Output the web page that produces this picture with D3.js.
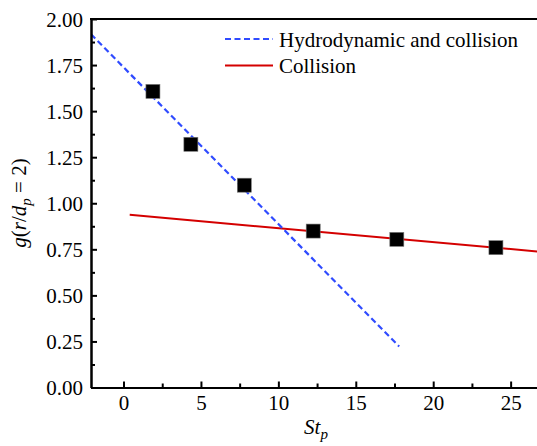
<!DOCTYPE html>
<html>
<head>
<meta charset="utf-8">
<script src="https://cdn.jsdelivr.net/npm/d3@7"></script>
<style>
  html, body { margin: 0; padding: 0; background: #fff; }
  svg { display: block; }
  svg text { font-family: "Liberation Serif", Tinos, "Times New Roman", Times, "DejaVu Serif", serif !important; }
</style>
</head>
<body>
<svg id="chart" width="537" height="446"></svg>
<script>
// Measured radial distribution at contact versus particle Stokes number
const stokes = [1.9, 4.35, 7.8, 12.25, 17.65, 24.05];
const gContact = [1.607, 1.32, 1.098, 0.849, 0.804, 0.759];

// Fitted trend lines (end points: [St_p, g])
const hydroFit = [[-2.1, 1.917], [17.8, 0.223]];
const collisionFit = [[0.4, 0.937], [27, 0.736]];

// Axis ticks
const xTicks = [0, 5, 10, 15, 20, 25];
const xMinor = [2.5, 7.5, 12.5, 17.5, 22.5];
const yTicks = [0, 0.25, 0.5, 0.75, 1.0, 1.25, 1.5, 1.75, 2.0];
const yMinor = [0.125, 0.375, 0.625, 0.875, 1.125, 1.375, 1.625, 1.875];

const legendItems = [
  { label: "Hydrodynamic and collision", color: "#2f4bff", dash: "6,3.5" },
  { label: "Collision", color: "#d40000", dash: null }
];

const svg = d3.select("#chart");
const plotLeft = 91, plotTop = 19, plotBottom = 387.5, plotRight = 541.6;

const x = d3.scaleLinear().domain([-2.1, 27]).range([plotLeft, plotRight]);
const y = d3.scaleLinear().domain([0, 2]).range([plotBottom, plotTop]);

svg.append("defs").append("clipPath").attr("id", "plotClip")
  .append("rect").attr("x", plotLeft).attr("y", plotTop)
  .attr("width", plotRight - plotLeft).attr("height", plotBottom - plotTop);

const plot = svg.append("g").attr("clip-path", "url(#plotClip)");

const line = d3.line().x(d => x(d[0])).y(d => y(d[1]));

plot.append("path").datum(collisionFit)
  .attr("d", line).attr("fill", "none")
  .attr("stroke", legendItems[1].color).attr("stroke-width", 2);

plot.append("path").datum(hydroFit)
  .attr("d", line).attr("fill", "none")
  .attr("stroke", legendItems[0].color).attr("stroke-width", 2.2)
  .attr("stroke-dasharray", legendItems[0].dash);

// Data markers
const sq = 14;
svg.append("g").selectAll("rect").data(stokes.map((s, i) => [s, gContact[i]]))
  .join("rect")
  .attr("x", d => x(d[0]) - sq / 2).attr("y", d => y(d[1]) - sq / 2)
  .attr("width", sq).attr("height", sq)
  .attr("fill", "#000").attr("stroke", "#777").attr("stroke-width", 0.6);

// Axes
const fontSize = 21;
const xAxis = svg.append("g").attr("transform", `translate(0,${plotBottom})`)
  .call(d3.axisBottom(x).tickValues(xTicks).tickSizeInner(-6).tickSizeOuter(0).tickPadding(8).tickFormat(d3.format("d")));
const xAxisMinor = svg.append("g").attr("transform", `translate(0,${plotBottom})`)
  .call(d3.axisBottom(x).tickValues(xMinor).tickSizeInner(-4).tickSizeOuter(0).tickFormat(""));
const yAxis = svg.append("g").attr("transform", `translate(${plotLeft},0)`)
  .call(d3.axisLeft(y).tickValues(yTicks).tickSizeInner(-6).tickSizeOuter(0).tickPadding(8).tickFormat(d3.format(".2f")));
const yAxisMinor = svg.append("g").attr("transform", `translate(${plotLeft},0)`)
  .call(d3.axisLeft(y).tickValues(yMinor).tickSizeInner(-4).tickSizeOuter(0).tickFormat(""));

[xAxis, xAxisMinor, yAxis, yAxisMinor].forEach(a => {
  a.attr("font-family", null).attr("font-size", fontSize);
  a.select(".domain").attr("stroke", "#000").attr("stroke-width", 2);
  a.selectAll(".tick line").attr("stroke", "#000").attr("stroke-width", 2);
  a.selectAll("text").attr("fill", "#000");
});
xAxis.selectAll("text").attr("dy", "0.71em");
yAxis.selectAll("text").attr("dy", "0.34em");

// Top frame line
svg.append("line").attr("x1", plotLeft - 1).attr("x2", plotRight).attr("y1", plotTop).attr("y2", plotTop)
  .attr("stroke", "#000").attr("stroke-width", 2);

// Axis titles
const xt = svg.append("text").attr("x", 316).attr("y", 434)
  .attr("text-anchor", "middle").attr("font-size", 21);
xt.append("tspan").attr("font-style", "italic").text("St");
xt.append("tspan").attr("font-style", "italic").attr("font-size", 15).attr("dy", 5).text("p");

const yt = svg.append("text").attr("transform", "translate(26,203) rotate(-90)")
  .attr("text-anchor", "middle").attr("font-size", 21);
yt.append("tspan").attr("font-style", "italic").text("g");
yt.append("tspan").text("(");
yt.append("tspan").attr("font-style", "italic").text("r");
yt.append("tspan").text("/");
yt.append("tspan").attr("font-style", "italic").text("d");
yt.append("tspan").attr("font-style", "italic").attr("font-size", 15).attr("dy", 5).text("p");
yt.append("tspan").attr("dy", -5).text(" = 2)");

// Legend
const legend = svg.append("g");
legendItems.forEach((item, i) => {
  const ly = 39 + i * 26.5;
  legend.append("line").attr("x1", 225).attr("x2", 273).attr("y1", ly).attr("y2", ly)
    .attr("stroke", item.color).attr("stroke-width", 2)
    .attr("stroke-dasharray", item.dash);
  legend.append("text").attr("x", 279).attr("y", ly + 7.5)
    .attr("font-size", 21).attr("fill", "#000").text(item.label);
});
</script>
</body>
</html>
